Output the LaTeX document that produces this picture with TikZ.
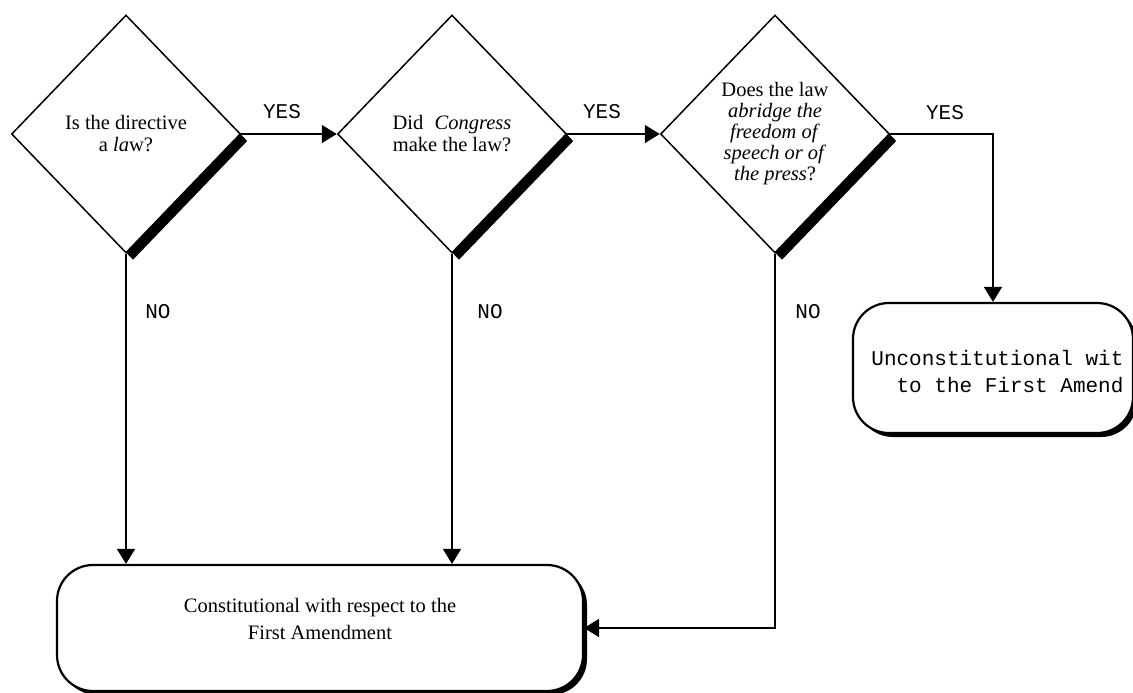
\documentclass[tikz,border=0pt]{standalone}
\usepackage{fontspec}
\setmainfont{Liberation Serif}
\setmonofont{Liberation Mono}
\usetikzlibrary{arrows.meta,shapes.geometric,shadows,calc}
\begin{document}
\begin{tikzpicture}[x=1pt,y=-1pt,
  dia/.style={diamond, draw, line width=1.5pt, fill=white, minimum width=229pt,
    minimum height=238pt, inner sep=0pt, align=center,
    font=\fontsize{20.5}{22}\selectfont,
    drop shadow={shadow xshift=7pt, shadow yshift=-7pt, fill=black, opacity=1}},
  endbox/.style={rectangle, rounded corners=36pt, draw, line width=2.2pt, fill=white,
    inner sep=0pt,
    drop shadow={shadow xshift=4pt, shadow yshift=-4pt, fill=black, opacity=1}},
  arr/.style={line width=1.6pt, -{Triangle[length=15pt,width=18pt]}},
  lbl/.style={font=\ttfamily\fontsize{21}{24}\selectfont},
  txt/.style={font=\fontsize{20.5}{27}\selectfont, align=center},
]
\useasboundingbox (0,0) rectangle (1133,693);

\node[dia] (d1) at (126,134) {Is the directive\\a \textit{la}w?};
\node[dia] (d2) at (452,134) {Did\hspace{0.55em}\textit{Congress}\\make the law?};
\node[dia, font=\fontsize{20.5}{21}\selectfont] (d3) at (775,134)
  {Does the law\\\textit{abridge the}\\\textit{freedom of}\\\textit{speech or of}\\\textit{the press}?};

\node[endbox, minimum width=526pt, minimum height=126pt] (con) at (320,628) {};
\node[txt] (contxt) at (320,619) {Constitutional with respect to the\\First Amendment};

\node[endbox, minimum width=280pt, minimum height=130pt] (unc) at (993,368) {};
\node[lbl, align=right, anchor=east, font=\ttfamily\fontsize{21}{27}\selectfont] (unctxt) at (1127,372)
  {Unconstitutional wit\\to the First Amend};

\draw[arr] (d1.east) -- (d2.west);
\draw[arr] (d2.east) -- (d3.west);
\draw[arr] (d3.east) -| (unc.north);
\draw[arr] (d1.south) -- (d1.south |- con.north);
\draw[arr] (d2.south) -- (d2.south |- con.north);
\draw[arr] (d3.south) |- (con.east);

\node[lbl] (y1) at (282,112) {YES};
\node[lbl] (y2) at (602,112) {YES};
\node[lbl] (y3) at (945,113) {YES};
\node[lbl] (n1) at (158,312) {NO};
\node[lbl] (n2) at (490,312) {NO};
\node[lbl] (n3) at (808,312) {NO};
\end{tikzpicture}
\end{document}
